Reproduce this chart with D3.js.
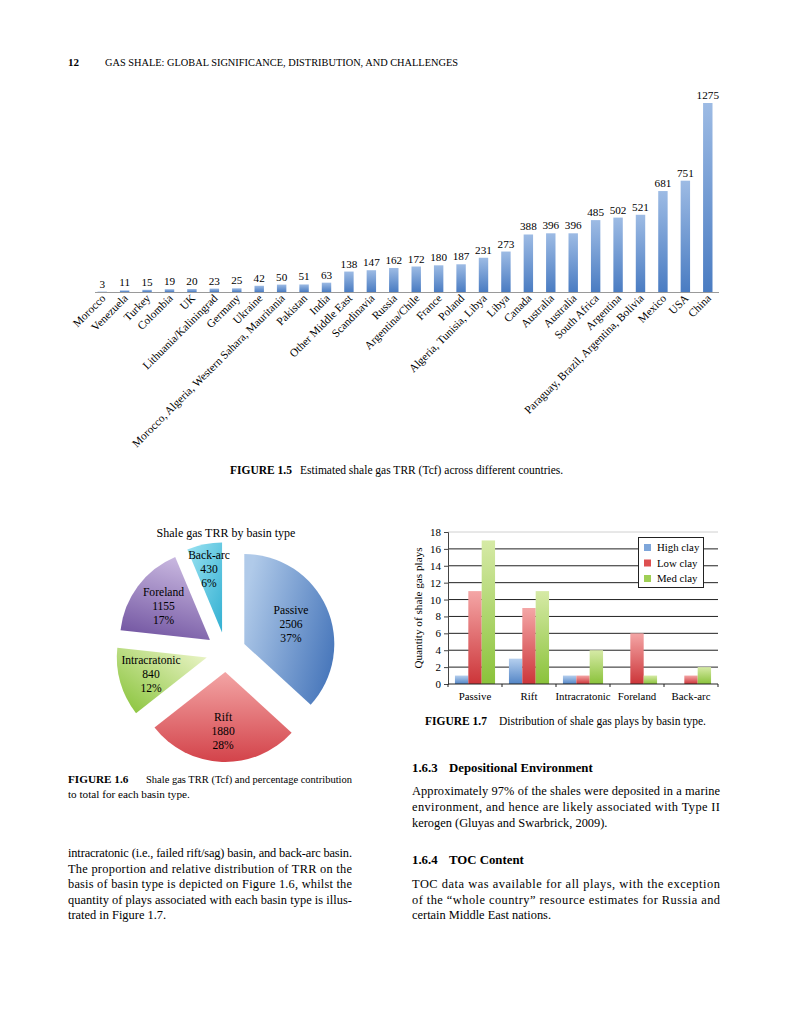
<!DOCTYPE html>
<html><head><meta charset="utf-8">
<script src="https://cdn.jsdelivr.net/npm/d3@7"></script>
<style>
body{margin:0;background:#fff}
svg{display:block}
text{font-family:"Liberation Serif","Times New Roman",serif;fill:#000}
</style>
</head><body>
<svg id="page" width="791" height="1024"></svg>
<script>
// ---------- DATA ----------
const countries = ["Morocco","Venezuela","Turkey","Colombia","UK","Lithuania/Kaliningrad","Germany","Ukraine",
  "Morocco, Algeria, Western Sahara, Mauritania","Pakistan","India","Other Middle East","Scandinavia","Russia",
  "Argentina/Chile","France","Poland","Algeria, Tunisia, Libya","Libya","Canada","Australia","Australia",
  "South Africa","Argentina","Paraguay, Brazil, Argentina, Bolivia","Mexico","USA","China"];
const countryTRR = [3,11,15,19,20,23,25,42,50,51,63,138,147,162,172,180,187,231,273,388,396,396,485,502,521,681,751,1275];

const basins = ["Passive","Rift","Intracratonic","Foreland","Back-arc"];
const basinTRR = [2506,1880,840,1155,430];
const basinPct = ["37%","28%","12%","17%","6%"];

const clayTypes = ["High clay","Low clay","Med clay"];
const highClay = [1,3,1,0,0];
const lowClay = [11,9,1,6,1];
const medClay = [17,11,4,1,2];
const playTicks = [0,2,4,6,8,10,12,14,16,18];

// ---------- STYLES ----------
const SERIF = '"Liberation Serif","Times New Roman",serif';
const svg = d3.select("#page");
svg.append("rect").attr("width",791).attr("height",1024).attr("fill","#fff");
const defs = svg.append("defs");
function grad(id, x1,y1,x2,y2, c1, c2){
  const g = defs.append("linearGradient").attr("id",id)
    .attr("x1",x1).attr("y1",y1).attr("x2",x2).attr("y2",y2);
  g.append("stop").attr("offset","0%").attr("stop-color",c1);
  g.append("stop").attr("offset","100%").attr("stop-color",c2);
}
grad("gBar1",0,0,0,1,"#9dbbe4","#4a7cc2");
const pieGrads = [
  ["gPassive",0,0.3,1,0.7,"#b0cae9","#4877bb"],
  ["gRift",0,0,0,1,"#f3a5a5","#d3434a"],
  ["gIntra",0,1,1,0,"#84c134","#f0f7cf"],
  ["gFore",0.6,0,0.3,1,"#c9b8e0","#7356a2"],
  ["gBack",0,0,1,1,"#9be3f2","#33b0d2"]
];
pieGrads.forEach(a=>grad(...a));
const pieLabelR = [51,58,58,58,66];
const clayGrads = [
  ["gHigh",0,0,0,1,"#b5cfee","#5385c6"],
  ["gLow",0,0,0,1,"#f4a6a6","#cc3539"],
  ["gMed",0,0,0,1,"#d6eaa6","#8ac23a"]
];
clayGrads.forEach(a=>grad(...a));
const claySwatch = ["#7ea6da","#dd4f50","#9fcf55"];

// ---------- HEADER ----------
svg.append("text").attr("x",68).attr("y",66).attr("font-size",11).attr("font-weight","bold").text("12");
svg.append("text").attr("x",105).attr("y",66).attr("font-size",10)
  .attr("textLength",353).attr("lengthAdjust","spacingAndGlyphs")
  .text("GAS SHALE: GLOBAL SIGNIFICANCE, DISTRIBUTION, AND CHALLENGES");

// ---------- FIGURE 1.5 ----------
const x1 = d3.scaleBand().domain(d3.range(countries.length)).range([91,719]).paddingInner(0.58).paddingOuter(0.29);
const y1 = d3.scaleLinear().domain([0,1275]).range([292,103]);
const f1 = svg.append("g");
f1.selectAll("rect.bar").data(countryTRR).join("rect").attr("class","bar")
  .attr("x",(d,i)=>x1(i)).attr("width",x1.bandwidth())
  .attr("y",d=>y1(d)).attr("height",d=>y1(0)-y1(d))
  .attr("fill","url(#gBar1)");
f1.selectAll("text.val").data(countryTRR).join("text").attr("class","val")
  .attr("x",(d,i)=>x1(i)+x1.bandwidth()/2).attr("y",d=>y1(d)-4)
  .attr("text-anchor","middle").attr("font-size",11.2).text(d=>d);
const ax1 = f1.append("g").attr("transform",`translate(0,${y1(0)})`)
  .call(d3.axisBottom(x1).tickSize(0).tickFormat(i=>countries[i]));
ax1.select(".domain").attr("stroke","#9a9a9a").attr("d","M95,0.5H719");
ax1.selectAll(".tick text")
  .attr("font-family",SERIF)
  .attr("font-size",11.3).attr("fill","#000")
  .attr("text-anchor","end").attr("dy",null).attr("y",0)
  .attr("transform","translate(4,7) rotate(-45)");

svg.append("text").attr("x",230).attr("y",474).attr("font-size",11.5)
  .html('<tspan font-weight="bold">FIGURE 1.5</tspan><tspan x="300">Estimated shale gas TRR (Tcf) across different countries.</tspan>');

// ---------- FIGURE 1.6 (pie) ----------
svg.append("text").attr("x",226).attr("y",537).attr("text-anchor","middle").attr("font-size",12)
  .text("Shale gas TRR by basin type");
const pieData = d3.pie().sort(null).value(d=>d.v)(basins.map((b,i)=>({b,v:basinTRR[i],p:basinPct[i]})));
const R = 90, explode = 20;
const arc = d3.arc().innerRadius(0).outerRadius(R);
const pg = svg.append("g").attr("transform","translate(226,652)");
pieData.forEach((d,i)=>{
  const mid = (d.startAngle+d.endAngle)/2;
  const g = pg.append("g").attr("transform",`translate(${Math.sin(mid)*explode},${-Math.cos(mid)*explode})`);
  g.append("path").attr("d",arc(d)).attr("fill",`url(#${pieGrads[i][0]})`);
  const c = d3.arc().innerRadius(pieLabelR[i]).outerRadius(pieLabelR[i]).centroid(d);
  const t = g.append("text").attr("text-anchor","middle").attr("font-size",11.6)
    .attr("transform",`translate(${c[0]},${c[1]})`);
  [d.data.b, d.data.v, d.data.p].forEach((s,k)=>{
    t.append("tspan").attr("x",0).attr("y",(k-1)*14+5).text(s);
  });
});
svg.append("text").attr("x",68).attr("y",783).attr("font-size",11.2)
  .html('<tspan font-weight="bold">FIGURE 1.6</tspan><tspan x="146" textLength="206" lengthAdjust="spacingAndGlyphs">Shale gas TRR (Tcf) and percentage contribution</tspan>');
svg.append("text").attr("x",68).attr("y",798).attr("font-size",11.2).text("to total for each basin type.");

// ---------- FIGURE 1.7 (grouped bars) ----------
const x0 = d3.scaleBand().domain(basins).range([448,718]).padding(0);
const xs = d3.scaleBand().domain(clayTypes).range([0,x0.bandwidth()]).paddingInner(0).paddingOuter(0.52);
const y3 = d3.scaleLinear().domain([0,18]).range([684,532]);
const f3 = svg.append("g");
f3.selectAll("line.grid").data(playTicks.filter(t=>t>0)).join("line").attr("class","grid")
  .attr("x1",x0.range()[0]).attr("x2",x0.range()[1])
  .attr("y1",d=>y3(d)).attr("y2",d=>y3(d))
  .attr("stroke",d=>d===18?"#d0d0d0":"#222").attr("stroke-width",1);
const series = [highClay,lowClay,medClay];
series.forEach((vals,si)=>{
  f3.selectAll(`rect.s${si}`).data(vals).join("rect").attr("class",`s${si}`)
    .attr("x",(d,i)=>x0(basins[i])+xs(clayTypes[si])).attr("width",xs.bandwidth())
    .attr("y",d=>y3(d)).attr("height",d=>y3(0)-y3(d))
    .attr("fill",`url(#${clayGrads[si][0]})`);
});
const ay3 = f3.append("g").attr("transform",`translate(${x0.range()[0]},0)`)
  .call(d3.axisLeft(y3).tickValues(playTicks).tickSize(4).tickPadding(3));
ay3.select(".domain").attr("stroke","#444");
ay3.selectAll(".tick line").attr("stroke","#444");
ay3.selectAll(".tick text").attr("font-family",SERIF).attr("font-size",11).attr("fill","#000");
f3.append("line").attr("x1",x0.range()[0]).attr("x2",x0.range()[1]).attr("y1",y3(0)).attr("y2",y3(0)).attr("stroke","#222");
const bounds = basins.map(b=>x0(b)).concat([x0.range()[1]]);
f3.selectAll("line.xt").data(bounds).join("line").attr("class","xt")
  .attr("x1",d=>d).attr("x2",d=>d).attr("y1",y3(0)).attr("y2",y3(0)+3).attr("stroke","#222");
f3.selectAll("text.xl").data(basins).join("text").attr("class","xl")
  .attr("x",d=>x0(d)+x0.bandwidth()/2).attr("y",700).attr("text-anchor","middle").attr("font-size",10.8).text(d=>d);
svg.append("text").attr("transform","translate(422,608) rotate(-90)").attr("text-anchor","middle")
  .attr("font-size",11.2).text("Quantity of shale gas plays");
const lg = svg.append("g").attr("transform","translate(638,537)");
lg.append("rect").attr("x",0.5).attr("y",0.5).attr("width",65).attr("height",50).attr("fill","#fff").attr("stroke","#222");
clayTypes.forEach((c,i)=>{
  lg.append("rect").attr("x",6).attr("y",7+i*15.5).attr("width",7).attr("height",7).attr("fill",claySwatch[i]);
  lg.append("text").attr("x",19).attr("y",14+i*15.5).attr("font-size",10.8).text(c);
});
svg.append("text").attr("x",425).attr("y",725).attr("font-size",11.5)
  .html('<tspan font-weight="bold">FIGURE 1.7</tspan><tspan x="499">Distribution of shale gas plays by basin type.</tspan>');

// ---------- BODY TEXT ----------
function para(x, w, y0, lines, lh){
  lines.forEach((l,i)=>{
    const t = svg.append("text").attr("x",x).attr("y",y0+i*lh).attr("font-size",12.4).text(l.t);
    if(l.j) t.attr("textLength",w).attr("lengthAdjust","spacing");
  });
}
para(68,284,857,[
  {t:"intracratonic (i.e., failed rift/sag) basin, and back-arc basin.",j:true},
  {t:"The proportion and relative distribution of TRR on the",j:true},
  {t:"basis of basin type is depicted on Figure 1.6, whilst the",j:true},
  {t:"quantity of plays associated with each basin type is illus-",j:true},
  {t:"trated in Figure 1.7.",j:false}],15.6);
svg.append("text").attr("x",412).attr("y",772).attr("font-size",12.8).attr("font-weight","bold")
  .html('1.6.3<tspan x="449">Depositional Environment</tspan>');
para(412,308,795,[
  {t:"Approximately 97% of the shales were deposited in a marine",j:true},
  {t:"environment, and hence are likely associated with Type II",j:true},
  {t:"kerogen (Gluyas and Swarbrick, 2009).",j:false}],16);
svg.append("text").attr("x",412).attr("y",864).attr("font-size",12.8).attr("font-weight","bold")
  .html('1.6.4<tspan x="449">TOC Content</tspan>');
para(412,308,888,[
  {t:"TOC data was available for all plays, with the exception",j:true},
  {t:"of the \u201cwhole country\u201d resource estimates for Russia and",j:true},
  {t:"certain Middle East nations.",j:false}],15.6);
</script>
</body></html>
